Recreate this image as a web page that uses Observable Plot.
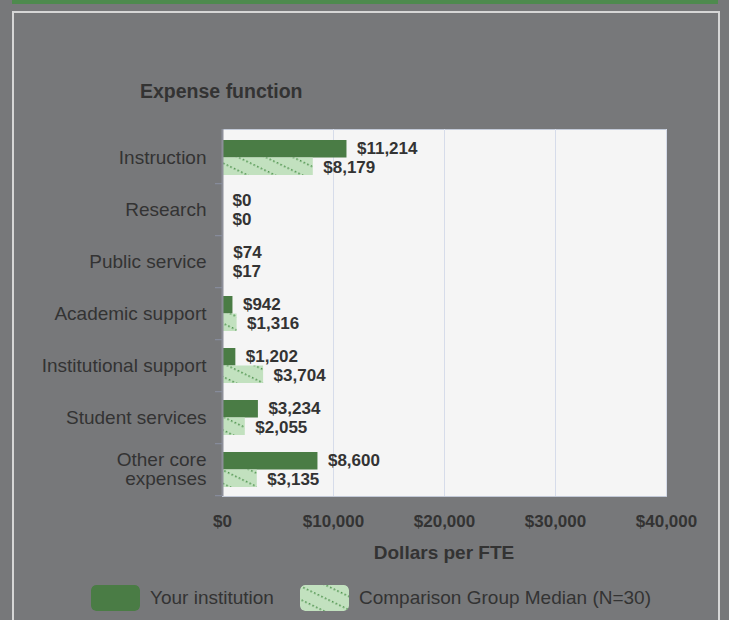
<!DOCTYPE html>
<html>
<head>
<meta charset="utf-8">
<script src="https://cdn.jsdelivr.net/npm/d3@7"></script>
<script src="https://cdn.jsdelivr.net/npm/@observablehq/plot@0.6"></script>
<style>
  html, body { margin: 0; padding: 0; background: #77787a; }
  #wrap { position: relative; width: 729px; height: 620px; overflow: hidden; background: #77787a;
          font-family: "Liberation Sans", Arial, sans-serif; color: #333; }
  #topband { position: absolute; left: 12px; top: 0; width: 706px; height: 4px; background: #4e8a4e; }
  #box { position: absolute; left: 12px; top: 11px; width: 708px; height: 660px; border: 2px solid #d6d6d6; box-sizing: border-box; }
  #title { position: absolute; left: 140px; top: 79px; font-size: 19.5px; font-weight: bold; line-height: 24px; white-space: nowrap; }
  #xlabel { position: absolute; left: 222px; width: 444px; top: 541px; text-align: center; font-size: 19px; font-weight: bold; line-height: 24px; }
  #chart { position: absolute; left: 0; top: 0; }
  .leg { position: absolute; top: 585px; height: 26px; display: flex; align-items: center; font-size: 19px; white-space: nowrap; }
  .sw { width: 49px; height: 26px; border-radius: 5px; margin-right: 10px; display: block; }
</style>
</head>
<body>
<svg width="0" height="0" style="position:absolute">
  <defs>
    <pattern id="hatch" patternUnits="userSpaceOnUse" width="4" height="12" patternTransform="rotate(26)">
      <rect width="4" height="12" fill="#c2e1bf"></rect>
      <rect x="0" y="0" width="1.6" height="1.6" fill="#4f944f"></rect>
    </pattern>
  </defs>
</svg>
<div id="wrap">
  <div id="topband"></div>
  <div id="box"></div>
  <div id="title">Expense function</div>
  <div id="chart"></div>
  <div id="xlabel">Dollars per FTE</div>
  <div class="leg" style="left:91px"><svg class="sw"><rect width="49" height="26" rx="5" fill="#4a7c45"></rect></svg><span id="leg1"></span></div>
  <div class="leg" style="left:300px"><svg class="sw"><rect width="49" height="26" rx="5" fill="url(#hatch)"></rect></svg><span id="leg2"></span></div>
</div>
<script>
const categories = ["Instruction", "Research", "Public service", "Academic support", "Institutional support", "Student services", "Other core expenses"];
const yourInstitution = [11214, 0, 74, 942, 1202, 3234, 8600];
const comparisonMedian = [8179, 0, 17, 1316, 3704, 2055, 3135];
const xTicks = [0, 10000, 20000, 30000, 40000];
const seriesNames = ["Your institution", "Comparison Group Median (N=30)"];

const rows = categories.map((c, i) => ({category: c, yours: yourInstitution[i], median: comparisonMedian[i]}));
const fmt = d3.format("$,.0f");
const wrapLabel = d => d === "Other core expenses" ? "Other core\nexpenses" : d;

const chart = Plot.plot({
  width: 729,
  height: 620,
  marginLeft: 222,
  marginRight: 63,
  marginTop: 129,
  marginBottom: 124,
  style: {background: "transparent", fontFamily: "'Liberation Sans', Arial, sans-serif", color: "#333", overflow: "visible"},
  x: {domain: [0, 40000], ticks: xTicks},
  y: {domain: categories, padding: 0},
  marks: [
    Plot.frame({fill: "#f5f5f5", stroke: "#c3cad8"}),
    Plot.gridX({ticks: xTicks, stroke: "#d6dcea", strokeOpacity: 1}),
    Plot.barX(rows, {y: "category", x: "yours", fill: "#4a7c45", insetTop: 9, insetBottom: 25.5}),
    Plot.barX(rows, {y: "category", x: "median", fill: "url(#hatch)", insetTop: 26.5, insetBottom: 8}),
    Plot.ruleX([0], {stroke: "#8d8f99", strokeWidth: 2}),
    Plot.text(rows, {y: "category", x: "yours", text: d => fmt(d.yours), dx: 10, dy: -9, textAnchor: "start", fontSize: 17, fontWeight: "bold", fill: "#333"}),
    Plot.text(rows, {y: "category", x: "median", text: d => fmt(d.median), dx: 10, dy: 10, textAnchor: "start", fontSize: 17, fontWeight: "bold", fill: "#333"}),
    Plot.axisY({tickSize: 0, tickPadding: 16, fontSize: 19, tickFormat: wrapLabel, label: null, fill: "#333"}),
    Plot.axisY({tickSize: 7, dy: 26.2, tickFormat: () => "", label: null, stroke: "#8a90a2"}),
    Plot.axisX({ticks: xTicks, tickSize: 0, tickPadding: 18, fontSize: 17, fontWeight: "bold", tickFormat: fmt, label: null, fill: "#333"})
  ]
});
document.getElementById("chart").appendChild(chart);
document.getElementById("leg1").textContent = seriesNames[0];
document.getElementById("leg2").textContent = seriesNames[1];
</script>
</body>
</html>
